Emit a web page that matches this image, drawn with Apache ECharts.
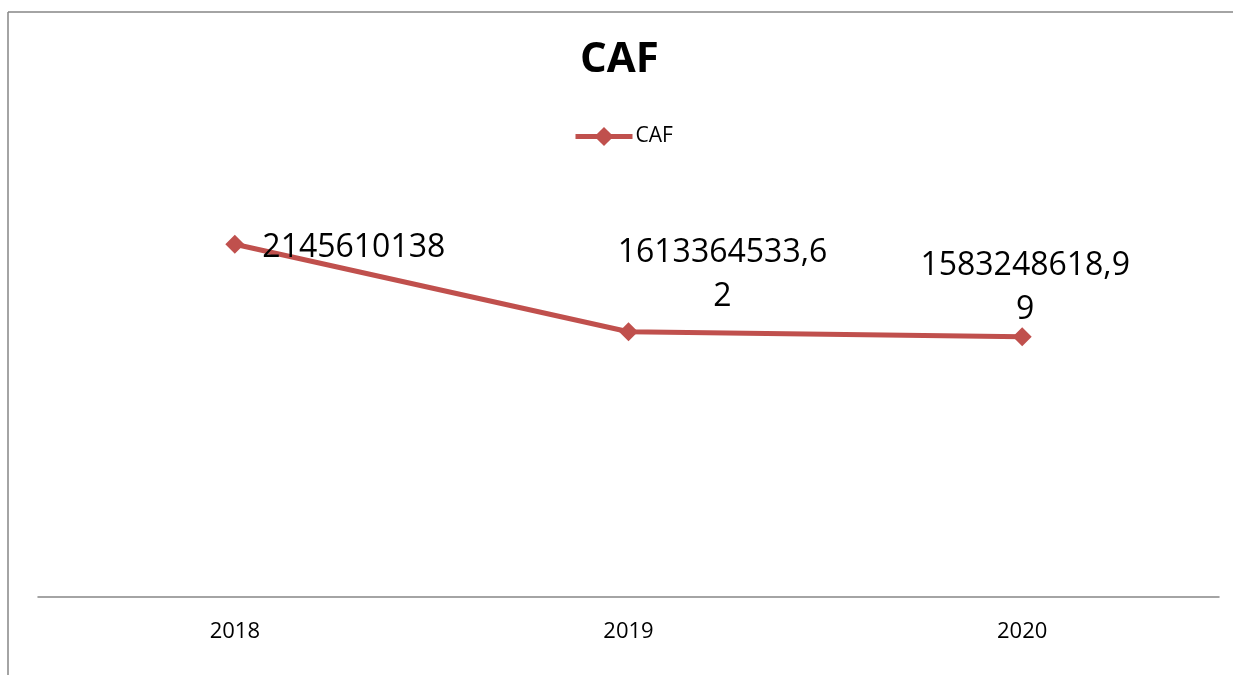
<!DOCTYPE html>
<html>
<head>
<meta charset="utf-8">
<title>CAF</title>
<script src="https://cdn.jsdelivr.net/npm/echarts@6/dist/echarts.min.js"></script>
<style>
    html, body { margin: 0; padding: 0; background: #fff; }
    #chart { width: 1233px; height: 675px; }
</style>
</head>
<body>
<div id="chart"></div>
<script>
// données du graphique
const years = ['2018', '2019', '2020'];
const cafValues = [2145610138, 1613364533.62, 1583248618.99];
const seriesName = 'CAF';

// placement des étiquettes (style, pas des données)
const labelPlacement = [
    { position: 'right', distance: 18, offset: [0, 4], align: 'left' },
    { position: 'inside', offset: [94, -57], align: 'center' },
    { position: 'inside', offset: [3, -49], align: 'center' }
];

// format Excel : virgule décimale, retour à la ligne après 12 caractères
function formatLabel(v) {
    const s = String(v).replace('.', ',');
    return s.length > 12 ? s.slice(0, 12) + '\n' + s.slice(12) : s;
}

const RED = '#C0504D';
const FONT = '"Open Sans", "Liberation Sans", sans-serif';

const chart = echarts.init(document.getElementById('chart'));

const option = {
    backgroundColor: '#fff',
    animation: false,
    title: {
        text: 'CAF',
        left: 580,
        top: 39,
        padding: 0,
        textStyle: { fontFamily: FONT, fontSize: 42, fontWeight: 'bold', color: '#000' }
    },
    legend: {
        data: [seriesName],
        top: 126,
        left: 573,
        padding: 0,
        itemWidth: 57,
        itemHeight: 24,
        itemGap: 4,
        lineStyle: { width: 5, color: RED },
        itemStyle: { color: RED },
        textStyle: { fontFamily: FONT, fontSize: 21, color: '#000', padding: [0, 0, 0, -2] }
    },
    grid: { left: 38, right: 14, top: 186, bottom: 78 },
    xAxis: {
        type: 'category',
        data: years,
        boundaryGap: true,
        axisLine: { lineStyle: { color: '#868686', width: 1.5 } },
        axisTick: { show: false },
        axisLabel: { fontFamily: FONT, fontSize: 22, color: '#000', margin: 24 }
    },
    yAxis: {
        type: 'value',
        min: 0,
        max: 2500000000,
        show: false,
        splitLine: { show: false }
    },
    series: [{
        name: seriesName,
        type: 'line',
        symbol: 'diamond',
        symbolSize: 19,
        color: RED,
        lineStyle: { color: RED, width: 5 },
        itemStyle: { color: RED },
        data: cafValues.map((v, i) => ({
            value: v,
            label: Object.assign({
                show: true,
                formatter: p => formatLabel(p.value),
                fontFamily: FONT,
                fontSize: 32,
                lineHeight: 44,
                color: '#000',
                verticalAlign: 'middle'
            }, labelPlacement[i])
        }))
    }],
    graphic: [
        // cadre du graphique
        { type: 'line', shape: { x1: 8, y1: 12, x2: 1233, y2: 12 }, style: { stroke: '#868686', lineWidth: 1.5 } },
        { type: 'line', shape: { x1: 8, y1: 12, x2: 8, y2: 675 }, style: { stroke: '#868686', lineWidth: 1.5 } }
    ]
};

chart.setOption(option);
console.log('✅ CAF chart rendered');
</script>
</body>
</html>
